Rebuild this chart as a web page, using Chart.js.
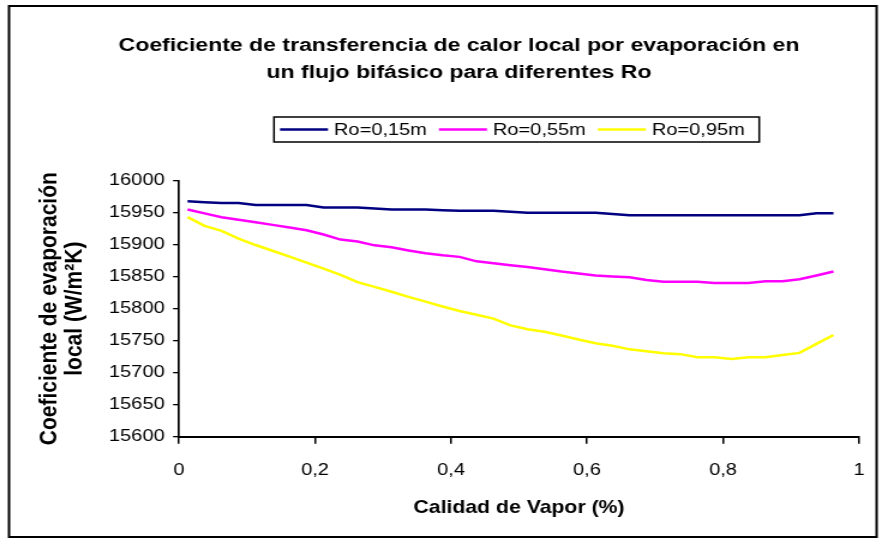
<!DOCTYPE html>
<html>
<head>
<meta charset="utf-8">
<script src="https://cdn.jsdelivr.net/npm/chart.js@4.4.0/dist/chart.umd.min.js"></script>
<style>
  html, body { margin: 0; padding: 0; background: #fff; overflow: hidden; }
  /* the figure is laid out narrower and widened horizontally, like the original export */
  #wrap { width: 738px; height: 544px; transform: scaleX(1.2); transform-origin: 0 0; }
</style>
</head>
<body>
<div id="wrap"><canvas id="c" width="738" height="544"></canvas></div>
<script>
// Vapour quality (fraction)
const xValues = [0.0125, 0.0375, 0.0625, 0.0875, 0.1125, 0.1375, 0.1625, 0.1875, 0.2125, 0.2375,
                 0.2625, 0.2875, 0.3125, 0.3375, 0.3625, 0.3875, 0.4125, 0.4375, 0.4625, 0.4875,
                 0.5125, 0.5375, 0.5625, 0.5875, 0.6125, 0.6375, 0.6625, 0.6875, 0.7125, 0.7375,
                 0.7625, 0.7875, 0.8125, 0.8375, 0.8625, 0.8875, 0.9125, 0.9375, 0.9625];

// Local evaporation coefficient (W/m2K) for each radius
const ro015 = [15968, 15966.5, 15965, 15965, 15962, 15962, 15962, 15962, 15958, 15958,
               15958, 15956.5, 15955, 15955, 15955, 15954, 15953, 15953, 15953, 15951.5,
               15950, 15950, 15950, 15950, 15950, 15948, 15946, 15946, 15946, 15946,
               15946, 15946, 15946, 15946, 15946, 15946, 15946, 15949, 15949];
const ro055 = [15955, 15949, 15943, 15939, 15935, 15931, 15927, 15922.5, 15916, 15908,
               15905, 15899, 15896, 15891, 15886.5, 15883.5, 15881, 15874, 15871, 15868,
               15865, 15861.5, 15858, 15855, 15852, 15850.5, 15849, 15845, 15842, 15842,
               15842, 15840, 15840, 15840, 15843, 15843, 15846, 15852, 15858];
const ro095 = [15943, 15929.5, 15921.5, 15909.5, 15899.5, 15890.5, 15881.5, 15872, 15862.5, 15853,
               15841.5, 15834, 15826.5, 15818.5, 15811, 15803.5, 15796.5, 15790.5, 15784.5, 15774,
               15768, 15764, 15758, 15752, 15746, 15742, 15736.5, 15733.5, 15730.5, 15729,
               15724, 15724, 15721.5, 15724, 15724, 15727.5, 15731, 15745, 15759];

const seriesLabels = ['Ro=0,15m', 'Ro=0,55m', 'Ro=0,95m'];
const seriesColors = ['#000080', '#FF00FF', '#FFFF00'];
const xTickLabels = ['0', '0,2', '0,4', '0,6', '0,8', '1'];
const titleLines = ['Coeficiente de transferencia de calor local por evaporación en',
                    'un flujo bifásico para diferentes Ro'];
const yTitleLines = ['Coeficiente de evaporación', 'local (W/m\u00B2K)'];
const xTitle = 'Calidad de Vapor (%)';

const FAMILY = "'Liberation Sans', Arial, sans-serif";

const toPoints = ys => ys.map((y, i) => ({ x: xValues[i], y }));

// Frame, heading and boxed legend
const frameAndHeader = {
  id: 'frameAndHeader',
  beforeDraw(chart) {
    const { ctx, width, height } = chart;
    ctx.save();
    ctx.fillStyle = '#fff';
    ctx.fillRect(0, 0, width, height);
    ctx.strokeStyle = '#000';
    ctx.lineWidth = 2;
    ctx.strokeRect(7.5, 6, width - 15, height - 13);
    ctx.restore();
  },
  afterDraw(chart) {
    const { ctx, chartArea } = chart;
    ctx.save();
    ctx.fillStyle = '#000';
    ctx.textAlign = 'center';
    ctx.textBaseline = 'middle';
    ctx.font = 'bold 19.2px ' + FAMILY;
    titleLines.forEach((t, i) => ctx.fillText(t, 382.5, 46 + i * 27));

    // legend
    ctx.font = '16.7px ' + FAMILY;
    const sample = 40, gap = 5, itemGap = 10, padL = 5, padR = 12;
    const widths = chart.data.datasets.map(d => ctx.measureText(d.label).width);
    const total = padL + padR + widths.reduce((s, w) => s + sample + gap + w, 0) + itemGap * (widths.length - 1);
    const left = (chartArea.left + chartArea.right) / 2 - total / 2 - 2;
    const top = 117, h = 25, cy = top + h / 2;
    ctx.strokeStyle = '#000';
    ctx.lineWidth = 1.5;
    ctx.strokeRect(left, top, total, h);
    let x = left + padL;
    ctx.textAlign = 'left';
    chart.data.datasets.forEach((d, i) => {
      ctx.strokeStyle = d.borderColor;
      ctx.lineWidth = 2.5;
      ctx.beginPath();
      ctx.moveTo(x, cy);
      ctx.lineTo(x + sample, cy);
      ctx.stroke();
      ctx.fillStyle = '#000';
      ctx.fillText(d.label, x + sample + gap, cy + 1);
      x += sample + gap + widths[i] + itemGap;
    });
    ctx.restore();
  }
};

new Chart(document.getElementById('c'), {
  type: 'line',
  data: {
    datasets: [ro015, ro055, ro095].map((ys, i) => ({
      label: seriesLabels[i],
      data: toPoints(ys),
      borderColor: seriesColors[i],
      backgroundColor: seriesColors[i],
      borderWidth: 2.5,
      pointRadius: 0,
      tension: 0,
      fill: false
    }))
  },
  options: {
    responsive: false,
    animation: false,
    devicePixelRatio: 1,
    layout: { padding: { top: 180.7, left: 8, right: 22.2, bottom: 17.3 } },
    plugins: {
      legend: { display: false },
      title: { display: false },
      tooltip: { enabled: false }
    },
    scales: {
      x: {
        type: 'linear',
        min: 0,
        max: 1,
        ticks: {
          stepSize: 0.2,
          maxRotation: 0,
          padding: 17,
          color: '#000',
          font: { family: FAMILY, size: 16.7 },
          callback: (v, i) => xTickLabels[i]
        },
        grid: { drawOnChartArea: false, drawTicks: true, tickLength: 7, color: '#000', lineWidth: 1.5 },
        border: { display: true, color: '#000', width: 2 },
        title: {
          display: true,
          text: xTitle,
          color: '#000',
          font: { family: FAMILY, size: 17.7, weight: 'bold' },
          padding: { top: 0, bottom: 7.7 }
        },
        afterFit: s => { s.height = 90; }
      },
      y: {
        min: 15600,
        max: 16000,
        ticks: {
          stepSize: 50,
          padding: 7,
          color: '#000',
          font: { family: FAMILY, size: 16.7 },
          callback: v => String(v)
        },
        grid: { drawOnChartArea: false, drawTicks: true, tickLength: 5, color: '#000', lineWidth: 1.3 },
        border: { display: true, color: '#000', width: 1.7 },
        title: {
          display: true,
          text: yTitleLines,
          color: '#000',
          font: { family: FAMILY, size: 21, weight: 'bold', lineHeight: 0.98 },
          padding: { top: 23, bottom: 0 }
        },
        afterFit: s => { s.width = 141.2; }
      }
    }
  },
  plugins: [frameAndHeader]
});
</script>
</body>
</html>
